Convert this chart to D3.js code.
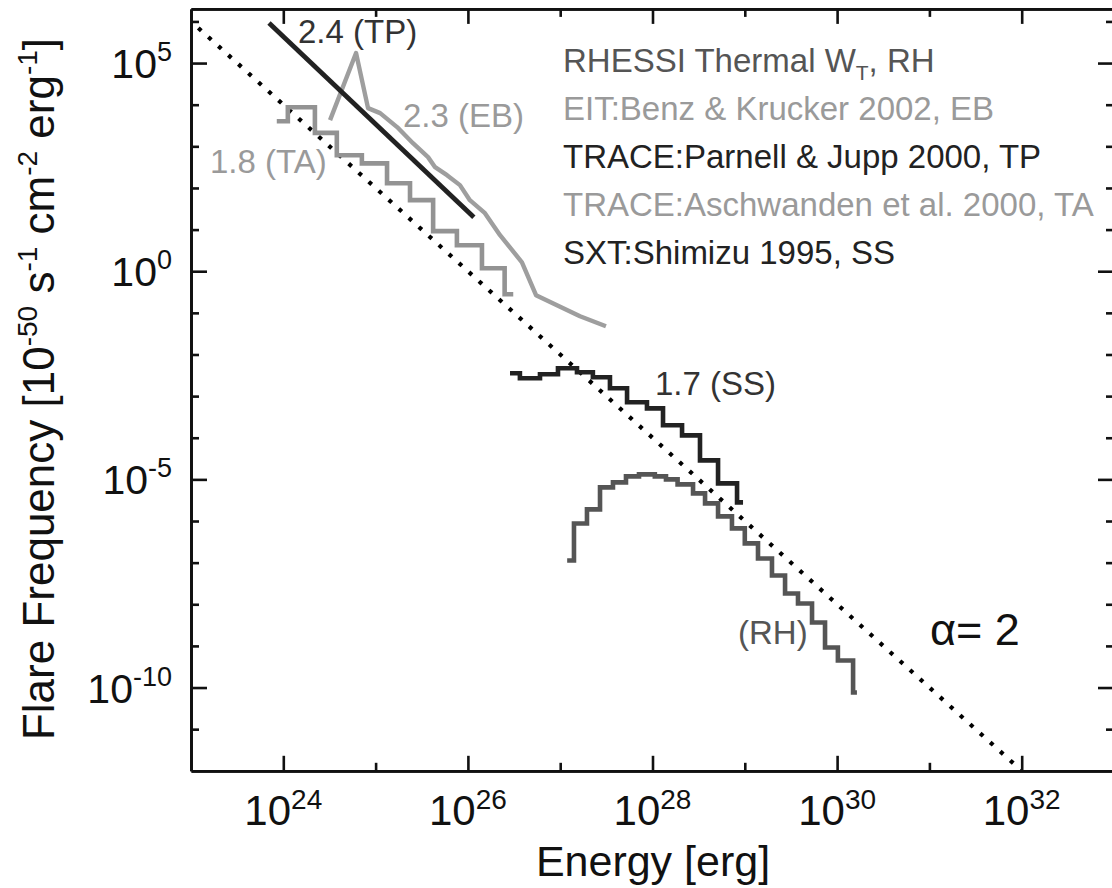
<!DOCTYPE html>
<html><head><meta charset="utf-8">
<script src="https://cdn.jsdelivr.net/npm/d3@7"></script>
<style>
body{margin:0;background:#fff}
svg{display:block;background:#fff}
text{font-family:"Liberation Sans",Arial,Helvetica,sans-serif;white-space:pre}
</style>
</head><body>
<svg id="c" width="1112" height="888"></svg>
<script>
// ---------------- data ----------------
// TRACE: Aschwanden et al. 2000 (TA) histogram: bin edges [erg] and frequencies
const taEdges = [8.5e23, 1.12e24, 2.2e24, 3.8e24, 7.1e24, 1.33e25, 2.36e25, 4.2e25, 7.6e25, 1.42e26, 2.5e26, 3.1e26];
const taFreq  = [4.0e3, 8.7e3, 2.1e3, 6.1e2, 3.9e2, 1.3e2, 51, 9.2, 4.2, 1.18, 0.28];

// EIT: Benz & Krucker 2002 (EB) curve
const ebEnergy = [3.21e24, 6.14e24, 8.28e24, 1.12e25, 1.71e25, 2.54e25, 3.70e25, 4.41e25, 5.94e25, 8.20e25, 1.05e26, 1.53e26, 2.23e26, 3.85e26, 5.47e26, 1.64e27, 3.13e27];
const ebFreq   = [4.27e3, 1.74e5, 8.28e3, 6.28e3, 2.90e3, 1.19e3, 5.50e2, 3.16e2, 2.03e2, 1.17e2, 50.9, 24.8, 7.33, 1.64, 0.265, 0.0828, 0.0476];

// TRACE: Parnell & Jupp 2000 (TP) power-law fit
const tpEnergy = [7.0e23, 1.16e26];
const tpFreq   = [9.16e5, 19.9];

// SXT: Shimizu 1995 (SS) histogram
const ssEdges = [2.86e26, 3.66e26, 6.04e26, 9.46e26, 1.52e27, 2.26e27, 3.46e27, 5.30e27, 8.71e27, 1.30e28, 2.09e28, 3.27e28, 5.13e28, 8.24e28, 9.57e28];
const ssFreq  = [3.53e-3, 2.68e-3, 3.34e-3, 4.66e-3, 3.73e-3, 2.83e-3, 1.54e-3, 7.10e-4, 5.09e-4, 1.99e-4, 1.14e-4, 2.86e-5, 8.02e-6, 2.80e-6];

// RHESSI thermal (RH) histogram
const rhEdges = [1.19e27, 1.41e27, 1.95e27, 2.70e27, 3.73e27, 5.16e27, 7.14e27, 1.06e28, 1.40e28, 1.87e28, 2.75e28, 3.71e28, 5.13e28, 7.26e28, 1.00e29, 1.39e29, 1.97e29, 2.73e29, 3.77e29, 5.35e29, 7.40e29, 1.02e30, 1.49e30, 1.64e30];
const rhFreq  = [1.13e-7, 8.75e-7, 1.90e-6, 6.43e-6, 8.47e-6, 1.18e-5, 1.32e-5, 1.18e-5, 1.00e-5, 7.59e-6, 4.60e-6, 2.65e-6, 1.29e-6, 6.64e-7, 2.90e-7, 1.26e-7, 4.92e-8, 1.82e-8, 1.04e-8, 3.65e-9, 9.16e-10, 4.46e-10, 7.59e-11];

// alpha = 2 reference line
const alphaEnergy = [1.2e23, 1e32];
const alphaFreq   = [6.95e5, 1e-12];

// ticks
const xMajorTicks = [1e24, 1e26, 1e28, 1e30, 1e32];
const xMajorExp   = ["24", "26", "28", "30", "32"];
const xMinorTicks = [1e25, 1e27, 1e29, 1e31];
const yMajorTicks = [1e5, 1e0, 1e-5, 1e-10];
const yMajorExp   = ["5", "0", "-5", "-10"];
const yMinorTicks = [1e6, 1e4, 1e3, 1e2, 1e1, 1e-1, 1e-2, 1e-3, 1e-4, 1e-6, 1e-7, 1e-8, 1e-9, 1e-11];

// legend
const legendParts = [
  [["RHESSI Thermal W", 0], ["T", 1], [", RH", 0]],
  [["EIT:Benz & Krucker 2002, EB", 0]],
  [["TRACE:Parnell & Jupp 2000, TP", 0]],
  [["TRACE:Aschwanden et al. 2000, TA", 0]],
  [["SXT:Shimizu 1995, SS", 0]]
];
const legendColors = ["#555555", "#9a9a9a", "#222222", "#9a9a9a", "#222222"];

// ---------------- drawing ----------------
const svg = d3.select('#c');
const L = 191, R = 1114, T = 8.9, B = 770.8;
const x = d3.scaleLog().domain([1e23, 1e33]).range([L, R]);
const y = d3.scaleLog().domain([1e-12, 2e6]).range([B, T]);

const stepPts = (edges, vals) => {
  const p = vals.map((v, i) => [edges[i], v]);
  p.push([edges[edges.length - 1], vals[vals.length - 1]]);
  return p;
};
const stepLine = d3.line().x(d => x(d[0])).y(d => y(d[1])).curve(d3.curveStepAfter);
const lin = d3.line().x(d => x(d[0])).y(d => y(d[1]));

const plot = svg.append('g');

// alpha = 2 dotted line
plot.append('path')
  .attr('d', lin(alphaEnergy.map((e, i) => [e, alphaFreq[i]])))
  .attr('fill', 'none').attr('stroke', '#000').attr('stroke-width', 4.2)
  .attr('stroke-dasharray', '4 9.5');

// TA
plot.append('path').attr('d', stepLine(stepPts(taEdges, taFreq)))
  .attr('fill', 'none').attr('stroke', '#939393').attr('stroke-width', 4.6);
// EB
plot.append('path').attr('d', lin(ebEnergy.map((e, i) => [e, ebFreq[i]])))
  .attr('fill', 'none').attr('stroke', '#9e9e9e').attr('stroke-width', 4.4).attr('stroke-linejoin', 'round');
// TP
plot.append('path').attr('d', lin(tpEnergy.map((e, i) => [e, tpFreq[i]])))
  .attr('fill', 'none').attr('stroke', '#222').attr('stroke-width', 4.8);
// SS
plot.append('path').attr('d', stepLine(stepPts(ssEdges, ssFreq)))
  .attr('fill', 'none').attr('stroke', '#222').attr('stroke-width', 4.6);
// RH
plot.append('path').attr('d', stepLine(stepPts(rhEdges, rhFreq)))
  .attr('fill', 'none').attr('stroke', '#555').attr('stroke-width', 4.6);

// axes (ticks pointing inward)
function styleAxis(g) {
  g.attr('color', '#111');
  g.selectAll('path.domain').attr('stroke-width', 2.8);
  g.selectAll('.tick line').attr('stroke-width', 2.6);
}
const mk = (axisFn, scale, vals, size) => axisFn(scale).tickValues(vals).tickSize(-size).tickSizeOuter(0).tickFormat('');
svg.append('g').attr('transform', `translate(0,${B})`).call(mk(d3.axisBottom, x, xMajorTicks, 15)).call(styleAxis);
svg.append('g').attr('transform', `translate(0,${B})`).call(mk(d3.axisBottom, x, xMinorTicks, 8)).call(styleAxis);
svg.append('g').attr('transform', `translate(0,${T})`).call(mk(d3.axisTop, x, xMajorTicks, 15)).call(styleAxis);
svg.append('g').attr('transform', `translate(0,${T})`).call(mk(d3.axisTop, x, xMinorTicks, 8)).call(styleAxis);
svg.append('g').attr('transform', `translate(${L},0)`).call(mk(d3.axisLeft, y, yMajorTicks, 16)).call(styleAxis);
svg.append('g').attr('transform', `translate(${L},0)`).call(mk(d3.axisLeft, y, yMinorTicks, 8)).call(styleAxis);
svg.append('g').attr('transform', `translate(${R},0)`).call(mk(d3.axisRight, y, yMajorTicks, 16)).call(styleAxis);
svg.append('g').attr('transform', `translate(${R},0)`).call(mk(d3.axisRight, y, yMinorTicks, 8)).call(styleAxis);

// x tick labels
xMajorTicks.forEach((v, i) => {
  const t = svg.append('text').attr('x', x(v)).attr('y', 825)
    .attr('text-anchor', 'middle').attr('font-size', 42).attr('fill', '#111');
  t.append('tspan').text('10');
  t.append('tspan').attr('font-size', 28).attr('dy', -16).text(xMajorExp[i]);
});
// y tick labels
yMajorTicks.forEach((v, i) => {
  const t = svg.append('text').attr('x', 172).attr('y', y(v) + 15)
    .attr('text-anchor', 'end').attr('font-size', 41).attr('fill', '#111');
  t.append('tspan').text('10');
  t.append('tspan').attr('font-size', 27).attr('dy', -17).text(yMajorExp[i]);
});

// axis titles
svg.append('text').attr('x', 653).attr('y', 876).attr('text-anchor', 'middle')
  .attr('font-size', 43).attr('fill', '#111').text('Energy [erg]');
const yt = svg.append('text').attr('transform', 'translate(54,389) rotate(-90)')
  .attr('text-anchor', 'middle').attr('font-size', 44).attr('fill', '#111');
[["Flare Frequency [10", 0], ["-50", 1], [" s", 0], ["-1", 1], [" cm", 0], ["-2", 1], [" erg", 0], ["-1", 1], ["]", 0]]
  .forEach(([s, sup], i, arr) => {
    const prevSup = i > 0 && arr[i - 1][1];
    const ts = yt.append('tspan').text(s);
    if (sup) ts.attr('font-size', 28).attr('dy', -17);
    else if (prevSup) ts.attr('dy', 17);
  });

// legend
legendParts.forEach((parts, i) => {
  const t = svg.append('text').attr('x', 563).attr('y', 72 + 48 * i)
    .attr('font-size', 33).attr('fill', legendColors[i]);
  parts.forEach(([s, sub], j) => {
    const ts = t.append('tspan').text(s);
    if (sub) ts.attr('font-size', 21).attr('dy', 8);
    else if (j > 0 && parts[j - 1][1]) ts.attr('dy', -8);
  });
});

// annotations
const ann = (txt, xx, yy, col, fs) => svg.append('text').attr('x', xx).attr('y', yy)
  .attr('font-size', fs).attr('fill', col).text(txt);
ann('2.4 (TP)', 298, 43, '#333', 33);
ann('2.3 (EB)', 403, 127, '#9a9a9a', 33);
ann('1.8 (TA)', 210, 173, '#9a9a9a', 33);
ann('1.7 (SS)', 655, 395, '#333', 33);
ann('(RH)', 738, 644, '#555', 33);
ann('α= 2', 930, 645, '#111', 45);
</script>
</body></html>
